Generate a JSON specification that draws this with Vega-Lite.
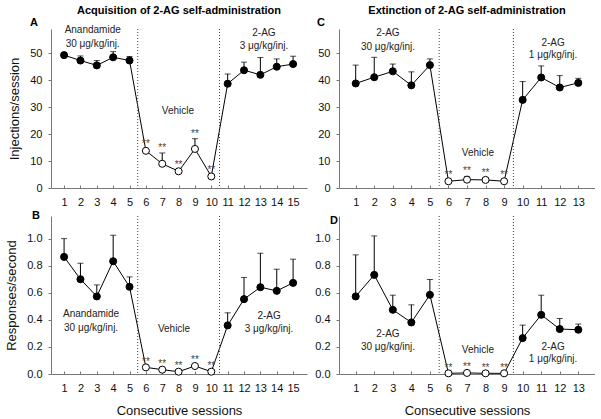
{
  "$schema": "https://vega.github.io/schema/vega-lite/v6.json",
  "padding": {"left": 5, "top": 5, "right": 0, "bottom": 0},
  "bounds": "flush",
  "columns": 2,
  "spacing": {"row": 28, "column": 32},
  "config": {
    "view": {"stroke": "transparent", "strokeWidth": 0, "fill": "transparent"},
    "font": "Liberation Sans",
    "axis": {"grid": false, "domain": true, "ticks": true, "zindex": 1, "domainColor": "#777777", "tickColor": "#777777", "domainWidth": 1, "tickWidth": 1, "labelColor": "#111", "labelFont": "Liberation Sans", "labelFontSize": 11, "titleFont": "Liberation Sans", "titleFontSize": 13, "titleFontWeight": "normal", "titleColor": "#111", "labelOverlap": false, "labelFlush": false},
    "axisX": {"tickSize": -3, "labelPadding": 11, "titlePadding": 11},
    "axisY": {"tickSize": 3, "labelPadding": 6, "titlePadding": 8},
    "title": {"font": "Liberation Sans", "fontSize": 11, "fontWeight": "bold", "offset": 1, "anchor": "middle", "frame": "group", "color": "#000"},
    "text": {"font": "Liberation Sans"}
  },
  "datasets": {
    "A": [
      {"session": 1, "mean": 49.3, "upper": 50.2, "phase": "Anandamide"},
      {"session": 2, "mean": 47.3, "upper": 49.0, "phase": "Anandamide"},
      {"session": 3, "mean": 45.5, "upper": 47.3, "phase": "Anandamide"},
      {"session": 4, "mean": 48.5, "upper": 50.6, "phase": "Anandamide"},
      {"session": 5, "mean": 47.3, "upper": 48.8, "phase": "Anandamide"},
      {"session": 6, "mean": 13.8, "upper": 14.4, "phase": "Vehicle"},
      {"session": 7, "mean": 9.0, "upper": 13.0, "phase": "Vehicle"},
      {"session": 8, "mean": 6.2, "upper": 6.8, "phase": "Vehicle"},
      {"session": 9, "mean": 14.5, "upper": 18.3, "phase": "Vehicle"},
      {"session": 10, "mean": 4.3, "upper": 5.0, "phase": "Vehicle"},
      {"session": 11, "mean": 38.7, "upper": 42.3, "phase": "2-AG"},
      {"session": 12, "mean": 43.7, "upper": 46.7, "phase": "2-AG"},
      {"session": 13, "mean": 42.0, "upper": 48.4, "phase": "2-AG"},
      {"session": 14, "mean": 45.0, "upper": 47.9, "phase": "2-AG"},
      {"session": 15, "mean": 46.0, "upper": 48.9, "phase": "2-AG"}
    ],
    "B": [
      {"session": 1, "mean": 0.865, "upper": 1.0, "phase": "Anandamide"},
      {"session": 2, "mean": 0.70, "upper": 0.818, "phase": "Anandamide"},
      {"session": 3, "mean": 0.573, "upper": 0.658, "phase": "Anandamide"},
      {"session": 4, "mean": 0.833, "upper": 1.025, "phase": "Anandamide"},
      {"session": 5, "mean": 0.644, "upper": 0.717, "phase": "Anandamide"},
      {"session": 6, "mean": 0.049, "upper": 0.053, "phase": "Vehicle"},
      {"session": 7, "mean": 0.032, "upper": 0.036, "phase": "Vehicle"},
      {"session": 8, "mean": 0.017, "upper": 0.021, "phase": "Vehicle"},
      {"session": 9, "mean": 0.059, "upper": 0.063, "phase": "Vehicle"},
      {"session": 10, "mean": 0.017, "upper": 0.021, "phase": "Vehicle"},
      {"session": 11, "mean": 0.359, "upper": 0.452, "phase": "2-AG"},
      {"session": 12, "mean": 0.553, "upper": 0.713, "phase": "2-AG"},
      {"session": 13, "mean": 0.641, "upper": 0.892, "phase": "2-AG"},
      {"session": 14, "mean": 0.614, "upper": 0.774, "phase": "2-AG"},
      {"session": 15, "mean": 0.673, "upper": 0.848, "phase": "2-AG"}
    ],
    "C": [
      {"session": 1, "mean": 38.8, "upper": 45.6, "phase": "2-AG"},
      {"session": 2, "mean": 41.1, "upper": 48.5, "phase": "2-AG"},
      {"session": 3, "mean": 43.3, "upper": 46.0, "phase": "2-AG"},
      {"session": 4, "mean": 38.1, "upper": 43.1, "phase": "2-AG"},
      {"session": 5, "mean": 45.6, "upper": 47.9, "phase": "2-AG"},
      {"session": 6, "mean": 2.5, "upper": 3.0, "phase": "Vehicle"},
      {"session": 7, "mean": 3.1, "upper": 4.3, "phase": "Vehicle"},
      {"session": 8, "mean": 3.0, "upper": 3.8, "phase": "Vehicle"},
      {"session": 9, "mean": 2.5, "upper": 3.0, "phase": "Vehicle"},
      {"session": 10, "mean": 32.7, "upper": 39.5, "phase": "2-AG"},
      {"session": 11, "mean": 41.0, "upper": 45.3, "phase": "2-AG"},
      {"session": 12, "mean": 37.3, "upper": 41.7, "phase": "2-AG"},
      {"session": 13, "mean": 39.0, "upper": 40.7, "phase": "2-AG"}
    ],
    "D": [
      {"session": 1, "mean": 0.573, "upper": 0.88, "phase": "2-AG"},
      {"session": 2, "mean": 0.732, "upper": 1.02, "phase": "2-AG"},
      {"session": 3, "mean": 0.474, "upper": 0.582, "phase": "2-AG"},
      {"session": 4, "mean": 0.381, "upper": 0.511, "phase": "2-AG"},
      {"session": 5, "mean": 0.585, "upper": 0.698, "phase": "2-AG"},
      {"session": 6, "mean": 0.005, "upper": 0.009, "phase": "Vehicle"},
      {"session": 7, "mean": 0.008, "upper": 0.012, "phase": "Vehicle"},
      {"session": 8, "mean": 0.005, "upper": 0.009, "phase": "Vehicle"},
      {"session": 9, "mean": 0.005, "upper": 0.009, "phase": "Vehicle"},
      {"session": 10, "mean": 0.265, "upper": 0.361, "phase": "2-AG"},
      {"session": 11, "mean": 0.437, "upper": 0.582, "phase": "2-AG"},
      {"session": 12, "mean": 0.332, "upper": 0.41, "phase": "2-AG"},
      {"session": 13, "mean": 0.327, "upper": 0.369, "phase": "2-AG"}
    ]
  },
  "concat": [
    {
      "width": 256, "height": 159,
      "title": "Acquisition of 2-AG self-administration",
      "data": {"name": "A"},
      "layer": [
        {"mark": {"type": "line", "color": "black", "strokeWidth": 1},
         "encoding": {
           "x": {"field": "session", "type": "quantitative", "scale": {"domain": [0.2, 15.85], "nice": false, "zero": false}, "axis": {"values": [1,2,3,4,5,6,7,8,9,10,11,12,13,14,15], "title": null}},
           "y": {"field": "mean", "type": "quantitative", "scale": {"domain": [0, 59], "nice": false, "zero": false}, "axis": {"values": [0,10,20,30,40,50], "title": "Injections/session"}}
         }},
        {"mark": {"type": "rule", "color": "#444", "strokeDash": [1, 2], "strokeWidth": 1},
         "data": {"values": [{}]},
         "encoding": {"x": {"datum": 5.5, "type": "quantitative", "scale": {"domain": [0.2, 15.85], "nice": false, "zero": false}, "axis": {"values": [1,2,3,4,5,6,7,8,9,10,11,12,13,14,15], "title": null}}}},
        {"mark": {"type": "rule", "color": "#444", "strokeDash": [1, 2], "strokeWidth": 1},
         "data": {"values": [{}]},
         "encoding": {"x": {"datum": 10.5, "type": "quantitative", "scale": {"domain": [0.2, 15.85], "nice": false, "zero": false}, "axis": {"values": [1,2,3,4,5,6,7,8,9,10,11,12,13,14,15], "title": null}}}},
        {"mark": {"type": "rule", "color": "black", "strokeWidth": 1},
         "encoding": {
           "x": {"field": "session", "type": "quantitative", "scale": {"domain": [0.2, 15.85], "nice": false, "zero": false}, "axis": {"values": [1,2,3,4,5,6,7,8,9,10,11,12,13,14,15], "title": null}},
           "y": {"field": "mean", "type": "quantitative", "scale": {"domain": [0, 59], "nice": false, "zero": false}, "axis": {"values": [0,10,20,30,40,50], "title": "Injections/session"}},
           "y2": {"field": "upper"}
         }},
        {"mark": {"type": "tick", "orient": "horizontal", "size": 6, "thickness": 1, "color": "black"},
         "encoding": {
           "x": {"field": "session", "type": "quantitative", "scale": {"domain": [0.2, 15.85], "nice": false, "zero": false}, "axis": {"values": [1,2,3,4,5,6,7,8,9,10,11,12,13,14,15], "title": null}},
           "y": {"field": "upper", "type": "quantitative", "scale": {"domain": [0, 59], "nice": false, "zero": false}, "axis": {"values": [0,10,20,30,40,50], "title": "Injections/session"}}
         }},
        {"mark": {"type": "point", "shape": "circle", "size": 50, "filled": true, "stroke": "black", "strokeWidth": 1, "opacity": 1},
         "encoding": {
           "x": {"field": "session", "type": "quantitative", "scale": {"domain": [0.2, 15.85], "nice": false, "zero": false}, "axis": {"values": [1,2,3,4,5,6,7,8,9,10,11,12,13,14,15], "title": null}},
           "y": {"field": "mean", "type": "quantitative", "scale": {"domain": [0, 59], "nice": false, "zero": false}, "axis": {"values": [0,10,20,30,40,50], "title": "Injections/session"}},
           "fill": {"condition": {"test": "datum.phase === 'Vehicle'", "value": "white"}, "value": "black"}
         }},
        {"transform": [{"filter": "datum.phase === 'Vehicle'"}],
         "mark": {"type": "text", "text": "**", "fontSize": 10, "baseline": "alphabetic", "dy": -2, "color": "#444"},
         "encoding": {
           "x": {"field": "session", "type": "quantitative", "scale": {"domain": [0.2, 15.85], "nice": false, "zero": false}, "axis": {"values": [1,2,3,4,5,6,7,8,9,10,11,12,13,14,15], "title": null}},
           "y": {"field": "upper", "type": "quantitative", "scale": {"domain": [0, 59], "nice": false, "zero": false}, "axis": {"values": [0,10,20,30,40,50], "title": "Injections/session"}}
         }},
        {"data": {"values": [{}]},
         "mark": {"type": "text", "text": ["Anandamide", "30 μg/kg/inj."], "fontSize": 10, "lineHeight": 14, "baseline": "middle", "color": "#222"},
         "encoding": {
           "x": {"datum": 2.75, "type": "quantitative", "scale": {"domain": [0.2, 15.85], "nice": false, "zero": false}, "axis": {"values": [1,2,3,4,5,6,7,8,9,10,11,12,13,14,15], "title": null}},
           "y": {"datum": 58.6, "type": "quantitative", "scale": {"domain": [0, 59], "nice": false, "zero": false}, "axis": {"values": [0,10,20,30,40,50], "title": "Injections/session"}}
         }},
        {"data": {"values": [{}]},
         "mark": {"type": "text", "text": "Vehicle", "fontSize": 10, "baseline": "middle", "color": "#222"},
         "encoding": {
           "x": {"datum": 7.96, "type": "quantitative", "scale": {"domain": [0.2, 15.85], "nice": false, "zero": false}, "axis": {"values": [1,2,3,4,5,6,7,8,9,10,11,12,13,14,15], "title": null}},
           "y": {"datum": 28.6, "type": "quantitative", "scale": {"domain": [0, 59], "nice": false, "zero": false}, "axis": {"values": [0,10,20,30,40,50], "title": "Injections/session"}}
         }},
        {"data": {"values": [{}]},
         "mark": {"type": "text", "text": ["2-AG", "3 μg/kg/inj."], "fontSize": 10, "lineHeight": 13, "baseline": "middle", "color": "#222"},
         "encoding": {
           "x": {"datum": 13.22, "type": "quantitative", "scale": {"domain": [0.2, 15.85], "nice": false, "zero": false}, "axis": {"values": [1,2,3,4,5,6,7,8,9,10,11,12,13,14,15], "title": null}},
           "y": {"datum": 57.5, "type": "quantitative", "scale": {"domain": [0, 59], "nice": false, "zero": false}, "axis": {"values": [0,10,20,30,40,50], "title": "Injections/session"}}
         }},
        {"data": {"values": [{}]},
         "mark": {"type": "text", "text": "A", "fontSize": 11, "fontWeight": "bold", "baseline": "middle", "color": "#000"},
         "encoding": {
           "x": {"datum": -0.84, "type": "quantitative", "scale": {"domain": [0.2, 15.85], "nice": false, "zero": false}, "axis": {"values": [1,2,3,4,5,6,7,8,9,10,11,12,13,14,15], "title": null}},
           "y": {"datum": 61.2, "type": "quantitative", "scale": {"domain": [0, 59], "nice": false, "zero": false}, "axis": {"values": [0,10,20,30,40,50], "title": "Injections/session"}}
         }}
      ]
    },
    {
      "width": 256, "height": 159,
      "title": "Extinction of 2-AG self-administration",
      "data": {"name": "C"},
      "layer": [
        {"mark": {"type": "line", "color": "black", "strokeWidth": 1},
         "encoding": {
           "x": {"field": "session", "type": "quantitative", "scale": {"domain": [0.1, 13.9], "nice": false, "zero": false}, "axis": {"values": [1,2,3,4,5,6,7,8,9,10,11,12,13], "title": null}},
           "y": {"field": "mean", "type": "quantitative", "scale": {"domain": [0, 59], "nice": false, "zero": false}, "axis": {"values": [0,10,20,30,40,50], "title": null}}
         }},
        {"mark": {"type": "rule", "color": "#444", "strokeDash": [1, 2], "strokeWidth": 1},
         "data": {"values": [{}]},
         "encoding": {"x": {"datum": 5.5, "type": "quantitative", "scale": {"domain": [0.1, 13.9], "nice": false, "zero": false}, "axis": {"values": [1,2,3,4,5,6,7,8,9,10,11,12,13], "title": null}}}},
        {"mark": {"type": "rule", "color": "#444", "strokeDash": [1, 2], "strokeWidth": 1},
         "data": {"values": [{}]},
         "encoding": {"x": {"datum": 9.5, "type": "quantitative", "scale": {"domain": [0.1, 13.9], "nice": false, "zero": false}, "axis": {"values": [1,2,3,4,5,6,7,8,9,10,11,12,13], "title": null}}}},
        {"mark": {"type": "rule", "color": "black", "strokeWidth": 1},
         "encoding": {
           "x": {"field": "session", "type": "quantitative", "scale": {"domain": [0.1, 13.9], "nice": false, "zero": false}, "axis": {"values": [1,2,3,4,5,6,7,8,9,10,11,12,13], "title": null}},
           "y": {"field": "mean", "type": "quantitative", "scale": {"domain": [0, 59], "nice": false, "zero": false}, "axis": {"values": [0,10,20,30,40,50], "title": null}},
           "y2": {"field": "upper"}
         }},
        {"mark": {"type": "tick", "orient": "horizontal", "size": 6, "thickness": 1, "color": "black"},
         "encoding": {
           "x": {"field": "session", "type": "quantitative", "scale": {"domain": [0.1, 13.9], "nice": false, "zero": false}, "axis": {"values": [1,2,3,4,5,6,7,8,9,10,11,12,13], "title": null}},
           "y": {"field": "upper", "type": "quantitative", "scale": {"domain": [0, 59], "nice": false, "zero": false}, "axis": {"values": [0,10,20,30,40,50], "title": null}}
         }},
        {"mark": {"type": "point", "shape": "circle", "size": 50, "filled": true, "stroke": "black", "strokeWidth": 1, "opacity": 1},
         "encoding": {
           "x": {"field": "session", "type": "quantitative", "scale": {"domain": [0.1, 13.9], "nice": false, "zero": false}, "axis": {"values": [1,2,3,4,5,6,7,8,9,10,11,12,13], "title": null}},
           "y": {"field": "mean", "type": "quantitative", "scale": {"domain": [0, 59], "nice": false, "zero": false}, "axis": {"values": [0,10,20,30,40,50], "title": null}},
           "fill": {"condition": {"test": "datum.phase === 'Vehicle'", "value": "white"}, "value": "black"}
         }},
        {"transform": [{"filter": "datum.phase === 'Vehicle'"}],
         "mark": {"type": "text", "text": "**", "fontSize": 10, "baseline": "alphabetic", "dy": -2, "color": "#444"},
         "encoding": {
           "x": {"field": "session", "type": "quantitative", "scale": {"domain": [0.1, 13.9], "nice": false, "zero": false}, "axis": {"values": [1,2,3,4,5,6,7,8,9,10,11,12,13], "title": null}},
           "y": {"field": "upper", "type": "quantitative", "scale": {"domain": [0, 59], "nice": false, "zero": false}, "axis": {"values": [0,10,20,30,40,50], "title": null}}
         }},
        {"data": {"values": [{}]},
         "mark": {"type": "text", "text": ["2-AG", "30 μg/kg/inj."], "fontSize": 10, "lineHeight": 14, "baseline": "middle", "color": "#222"},
         "encoding": {
           "x": {"datum": 2.74, "type": "quantitative", "scale": {"domain": [0.1, 13.9], "nice": false, "zero": false}, "axis": {"values": [1,2,3,4,5,6,7,8,9,10,11,12,13], "title": null}},
           "y": {"datum": 57.5, "type": "quantitative", "scale": {"domain": [0, 59], "nice": false, "zero": false}, "axis": {"values": [0,10,20,30,40,50], "title": null}}
         }},
        {"data": {"values": [{}]},
         "mark": {"type": "text", "text": "Vehicle", "fontSize": 10, "baseline": "middle", "color": "#222"},
         "encoding": {
           "x": {"datum": 7.59, "type": "quantitative", "scale": {"domain": [0.1, 13.9], "nice": false, "zero": false}, "axis": {"values": [1,2,3,4,5,6,7,8,9,10,11,12,13], "title": null}},
           "y": {"datum": 13.0, "type": "quantitative", "scale": {"domain": [0, 59], "nice": false, "zero": false}, "axis": {"values": [0,10,20,30,40,50], "title": null}}
         }},
        {"data": {"values": [{}]},
         "mark": {"type": "text", "text": ["2-AG", "1 μg/kg/inj."], "fontSize": 10, "lineHeight": 12, "baseline": "middle", "color": "#222"},
         "encoding": {
           "x": {"datum": 11.64, "type": "quantitative", "scale": {"domain": [0.1, 13.9], "nice": false, "zero": false}, "axis": {"values": [1,2,3,4,5,6,7,8,9,10,11,12,13], "title": null}},
           "y": {"datum": 53.8, "type": "quantitative", "scale": {"domain": [0, 59], "nice": false, "zero": false}, "axis": {"values": [0,10,20,30,40,50], "title": null}}
         }},
        {"data": {"values": [{}]},
         "mark": {"type": "text", "text": "C", "fontSize": 11, "fontWeight": "bold", "baseline": "middle", "color": "#000"},
         "encoding": {
           "x": {"datum": -0.87, "type": "quantitative", "scale": {"domain": [0.1, 13.9], "nice": false, "zero": false}, "axis": {"values": [1,2,3,4,5,6,7,8,9,10,11,12,13], "title": null}},
           "y": {"datum": 61.2, "type": "quantitative", "scale": {"domain": [0, 59], "nice": false, "zero": false}, "axis": {"values": [0,10,20,30,40,50], "title": null}}
         }}
      ]
    },
    {
      "width": 256, "height": 158,
      "data": {"name": "B"},
      "layer": [
        {"mark": {"type": "line", "color": "black", "strokeWidth": 1},
         "encoding": {
           "x": {"field": "session", "type": "quantitative", "scale": {"domain": [0.2, 15.85], "nice": false, "zero": false}, "axis": {"values": [1,2,3,4,5,6,7,8,9,10,11,12,13,14,15], "title": "Consecutive sessions"}},
           "y": {"field": "mean", "type": "quantitative", "scale": {"domain": [0, 1.167], "nice": false, "zero": false}, "axis": {"values": [0,0.2,0.4,0.6,0.8,1.0], "format": ".1f", "title": "Responses/second"}}
         }},
        {"mark": {"type": "rule", "color": "#444", "strokeDash": [1, 2], "strokeWidth": 1},
         "data": {"values": [{}]},
         "encoding": {"x": {"datum": 5.5, "type": "quantitative", "scale": {"domain": [0.2, 15.85], "nice": false, "zero": false}, "axis": {"values": [1,2,3,4,5,6,7,8,9,10,11,12,13,14,15], "title": "Consecutive sessions"}}}},
        {"mark": {"type": "rule", "color": "#444", "strokeDash": [1, 2], "strokeWidth": 1},
         "data": {"values": [{}]},
         "encoding": {"x": {"datum": 10.5, "type": "quantitative", "scale": {"domain": [0.2, 15.85], "nice": false, "zero": false}, "axis": {"values": [1,2,3,4,5,6,7,8,9,10,11,12,13,14,15], "title": "Consecutive sessions"}}}},
        {"mark": {"type": "rule", "color": "black", "strokeWidth": 1},
         "encoding": {
           "x": {"field": "session", "type": "quantitative", "scale": {"domain": [0.2, 15.85], "nice": false, "zero": false}, "axis": {"values": [1,2,3,4,5,6,7,8,9,10,11,12,13,14,15], "title": "Consecutive sessions"}},
           "y": {"field": "mean", "type": "quantitative", "scale": {"domain": [0, 1.167], "nice": false, "zero": false}, "axis": {"values": [0,0.2,0.4,0.6,0.8,1.0], "format": ".1f", "title": "Responses/second"}},
           "y2": {"field": "upper"}
         }},
        {"mark": {"type": "tick", "orient": "horizontal", "size": 6, "thickness": 1, "color": "black"},
         "encoding": {
           "x": {"field": "session", "type": "quantitative", "scale": {"domain": [0.2, 15.85], "nice": false, "zero": false}, "axis": {"values": [1,2,3,4,5,6,7,8,9,10,11,12,13,14,15], "title": "Consecutive sessions"}},
           "y": {"field": "upper", "type": "quantitative", "scale": {"domain": [0, 1.167], "nice": false, "zero": false}, "axis": {"values": [0,0.2,0.4,0.6,0.8,1.0], "format": ".1f", "title": "Responses/second"}}
         }},
        {"mark": {"type": "point", "shape": "circle", "size": 50, "filled": true, "stroke": "black", "strokeWidth": 1, "opacity": 1},
         "encoding": {
           "x": {"field": "session", "type": "quantitative", "scale": {"domain": [0.2, 15.85], "nice": false, "zero": false}, "axis": {"values": [1,2,3,4,5,6,7,8,9,10,11,12,13,14,15], "title": "Consecutive sessions"}},
           "y": {"field": "mean", "type": "quantitative", "scale": {"domain": [0, 1.167], "nice": false, "zero": false}, "axis": {"values": [0,0.2,0.4,0.6,0.8,1.0], "format": ".1f", "title": "Responses/second"}},
           "fill": {"condition": {"test": "datum.phase === 'Vehicle'", "value": "white"}, "value": "black"}
         }},
        {"transform": [{"filter": "datum.phase === 'Vehicle'"}],
         "mark": {"type": "text", "text": "**", "fontSize": 10, "baseline": "alphabetic", "dy": -2, "color": "#444"},
         "encoding": {
           "x": {"field": "session", "type": "quantitative", "scale": {"domain": [0.2, 15.85], "nice": false, "zero": false}, "axis": {"values": [1,2,3,4,5,6,7,8,9,10,11,12,13,14,15], "title": "Consecutive sessions"}},
           "y": {"field": "upper", "type": "quantitative", "scale": {"domain": [0, 1.167], "nice": false, "zero": false}, "axis": {"values": [0,0.2,0.4,0.6,0.8,1.0], "format": ".1f", "title": "Responses/second"}}
         }},
        {"data": {"values": [{}]},
         "mark": {"type": "text", "text": ["Anandamide", "30 μg/kg/inj."], "fontSize": 10, "lineHeight": 14, "baseline": "middle", "color": "#222"},
         "encoding": {
           "x": {"datum": 2.65, "type": "quantitative", "scale": {"domain": [0.2, 15.85], "nice": false, "zero": false}, "axis": {"values": [1,2,3,4,5,6,7,8,9,10,11,12,13,14,15], "title": "Consecutive sessions"}},
           "y": {"datum": 0.443, "type": "quantitative", "scale": {"domain": [0, 1.167], "nice": false, "zero": false}, "axis": {"values": [0,0.2,0.4,0.6,0.8,1.0], "format": ".1f", "title": "Responses/second"}}
         }},
        {"data": {"values": [{}]},
         "mark": {"type": "text", "text": "Vehicle", "fontSize": 10, "baseline": "middle", "color": "#222"},
         "encoding": {
           "x": {"datum": 7.72, "type": "quantitative", "scale": {"domain": [0.2, 15.85], "nice": false, "zero": false}, "axis": {"values": [1,2,3,4,5,6,7,8,9,10,11,12,13,14,15], "title": "Consecutive sessions"}},
           "y": {"datum": 0.332, "type": "quantitative", "scale": {"domain": [0, 1.167], "nice": false, "zero": false}, "axis": {"values": [0,0.2,0.4,0.6,0.8,1.0], "format": ".1f", "title": "Responses/second"}}
         }},
        {"data": {"values": [{}]},
         "mark": {"type": "text", "text": ["2-AG", "3 μg/kg/inj."], "fontSize": 10, "lineHeight": 13, "baseline": "middle", "color": "#222"},
         "encoding": {
           "x": {"datum": 13.53, "type": "quantitative", "scale": {"domain": [0.2, 15.85], "nice": false, "zero": false}, "axis": {"values": [1,2,3,4,5,6,7,8,9,10,11,12,13,14,15], "title": "Consecutive sessions"}},
           "y": {"datum": 0.428, "type": "quantitative", "scale": {"domain": [0, 1.167], "nice": false, "zero": false}, "axis": {"values": [0,0.2,0.4,0.6,0.8,1.0], "format": ".1f", "title": "Responses/second"}}
         }},
        {"data": {"values": [{}]},
         "mark": {"type": "text", "text": "B", "fontSize": 11, "fontWeight": "bold", "baseline": "middle", "color": "#000"},
         "encoding": {
           "x": {"datum": -0.72, "type": "quantitative", "scale": {"domain": [0.2, 15.85], "nice": false, "zero": false}, "axis": {"values": [1,2,3,4,5,6,7,8,9,10,11,12,13,14,15], "title": "Consecutive sessions"}},
           "y": {"datum": 1.167, "type": "quantitative", "scale": {"domain": [0, 1.167], "nice": false, "zero": false}, "axis": {"values": [0,0.2,0.4,0.6,0.8,1.0], "format": ".1f", "title": "Responses/second"}}
         }}
      ]
    },
    {
      "width": 256, "height": 158,
      "data": {"name": "D"},
      "layer": [
        {"mark": {"type": "line", "color": "black", "strokeWidth": 1},
         "encoding": {
           "x": {"field": "session", "type": "quantitative", "scale": {"domain": [0.1, 13.9], "nice": false, "zero": false}, "axis": {"values": [1,2,3,4,5,6,7,8,9,10,11,12,13], "title": "Consecutive sessions"}},
           "y": {"field": "mean", "type": "quantitative", "scale": {"domain": [0, 1.167], "nice": false, "zero": false}, "axis": {"values": [0,0.2,0.4,0.6,0.8,1.0], "format": ".1f", "title": null}}
         }},
        {"mark": {"type": "rule", "color": "#444", "strokeDash": [1, 2], "strokeWidth": 1},
         "data": {"values": [{}]},
         "encoding": {"x": {"datum": 5.5, "type": "quantitative", "scale": {"domain": [0.1, 13.9], "nice": false, "zero": false}, "axis": {"values": [1,2,3,4,5,6,7,8,9,10,11,12,13], "title": "Consecutive sessions"}}}},
        {"mark": {"type": "rule", "color": "#444", "strokeDash": [1, 2], "strokeWidth": 1},
         "data": {"values": [{}]},
         "encoding": {"x": {"datum": 9.5, "type": "quantitative", "scale": {"domain": [0.1, 13.9], "nice": false, "zero": false}, "axis": {"values": [1,2,3,4,5,6,7,8,9,10,11,12,13], "title": "Consecutive sessions"}}}},
        {"mark": {"type": "rule", "color": "black", "strokeWidth": 1},
         "encoding": {
           "x": {"field": "session", "type": "quantitative", "scale": {"domain": [0.1, 13.9], "nice": false, "zero": false}, "axis": {"values": [1,2,3,4,5,6,7,8,9,10,11,12,13], "title": "Consecutive sessions"}},
           "y": {"field": "mean", "type": "quantitative", "scale": {"domain": [0, 1.167], "nice": false, "zero": false}, "axis": {"values": [0,0.2,0.4,0.6,0.8,1.0], "format": ".1f", "title": null}},
           "y2": {"field": "upper"}
         }},
        {"mark": {"type": "tick", "orient": "horizontal", "size": 6, "thickness": 1, "color": "black"},
         "encoding": {
           "x": {"field": "session", "type": "quantitative", "scale": {"domain": [0.1, 13.9], "nice": false, "zero": false}, "axis": {"values": [1,2,3,4,5,6,7,8,9,10,11,12,13], "title": "Consecutive sessions"}},
           "y": {"field": "upper", "type": "quantitative", "scale": {"domain": [0, 1.167], "nice": false, "zero": false}, "axis": {"values": [0,0.2,0.4,0.6,0.8,1.0], "format": ".1f", "title": null}}
         }},
        {"mark": {"type": "point", "shape": "circle", "size": 50, "filled": true, "stroke": "black", "strokeWidth": 1, "opacity": 1},
         "encoding": {
           "x": {"field": "session", "type": "quantitative", "scale": {"domain": [0.1, 13.9], "nice": false, "zero": false}, "axis": {"values": [1,2,3,4,5,6,7,8,9,10,11,12,13], "title": "Consecutive sessions"}},
           "y": {"field": "mean", "type": "quantitative", "scale": {"domain": [0, 1.167], "nice": false, "zero": false}, "axis": {"values": [0,0.2,0.4,0.6,0.8,1.0], "format": ".1f", "title": null}},
           "fill": {"condition": {"test": "datum.phase === 'Vehicle'", "value": "white"}, "value": "black"}
         }},
        {"transform": [{"filter": "datum.phase === 'Vehicle'"}],
         "mark": {"type": "text", "text": "**", "fontSize": 10, "baseline": "alphabetic", "dy": -2, "color": "#444"},
         "encoding": {
           "x": {"field": "session", "type": "quantitative", "scale": {"domain": [0.1, 13.9], "nice": false, "zero": false}, "axis": {"values": [1,2,3,4,5,6,7,8,9,10,11,12,13], "title": "Consecutive sessions"}},
           "y": {"field": "upper", "type": "quantitative", "scale": {"domain": [0, 1.167], "nice": false, "zero": false}, "axis": {"values": [0,0.2,0.4,0.6,0.8,1.0], "format": ".1f", "title": null}}
         }},
        {"data": {"values": [{}]},
         "mark": {"type": "text", "text": ["2-AG", "30 μg/kg/inj."], "fontSize": 10, "lineHeight": 13, "baseline": "middle", "color": "#222"},
         "encoding": {
           "x": {"datum": 2.74, "type": "quantitative", "scale": {"domain": [0.1, 13.9], "nice": false, "zero": false}, "axis": {"values": [1,2,3,4,5,6,7,8,9,10,11,12,13], "title": "Consecutive sessions"}},
           "y": {"datum": 0.295, "type": "quantitative", "scale": {"domain": [0, 1.167], "nice": false, "zero": false}, "axis": {"values": [0,0.2,0.4,0.6,0.8,1.0], "format": ".1f", "title": null}}
         }},
        {"data": {"values": [{}]},
         "mark": {"type": "text", "text": "Vehicle", "fontSize": 10, "baseline": "middle", "color": "#222"},
         "encoding": {
           "x": {"datum": 7.59, "type": "quantitative", "scale": {"domain": [0.1, 13.9], "nice": false, "zero": false}, "axis": {"values": [1,2,3,4,5,6,7,8,9,10,11,12,13], "title": "Consecutive sessions"}},
           "y": {"datum": 0.177, "type": "quantitative", "scale": {"domain": [0, 1.167], "nice": false, "zero": false}, "axis": {"values": [0,0.2,0.4,0.6,0.8,1.0], "format": ".1f", "title": null}}
         }},
        {"data": {"values": [{}]},
         "mark": {"type": "text", "text": ["2-AG", "1 μg/kg/inj."], "fontSize": 10, "lineHeight": 12, "baseline": "middle", "color": "#222"},
         "encoding": {
           "x": {"datum": 11.64, "type": "quantitative", "scale": {"domain": [0.1, 13.9], "nice": false, "zero": false}, "axis": {"values": [1,2,3,4,5,6,7,8,9,10,11,12,13], "title": "Consecutive sessions"}},
           "y": {"datum": 0.199, "type": "quantitative", "scale": {"domain": [0, 1.167], "nice": false, "zero": false}, "axis": {"values": [0,0.2,0.4,0.6,0.8,1.0], "format": ".1f", "title": null}}
         }},
        {"data": {"values": [{}]},
         "mark": {"type": "text", "text": "D", "fontSize": 11, "fontWeight": "bold", "baseline": "middle", "color": "#000"},
         "encoding": {
           "x": {"datum": -0.17, "type": "quantitative", "scale": {"domain": [0.1, 13.9], "nice": false, "zero": false}, "axis": {"values": [1,2,3,4,5,6,7,8,9,10,11,12,13], "title": "Consecutive sessions"}},
           "y": {"datum": 1.13, "type": "quantitative", "scale": {"domain": [0, 1.167], "nice": false, "zero": false}, "axis": {"values": [0,0.2,0.4,0.6,0.8,1.0], "format": ".1f", "title": null}}
         }}
      ]
    }
  ]
}
